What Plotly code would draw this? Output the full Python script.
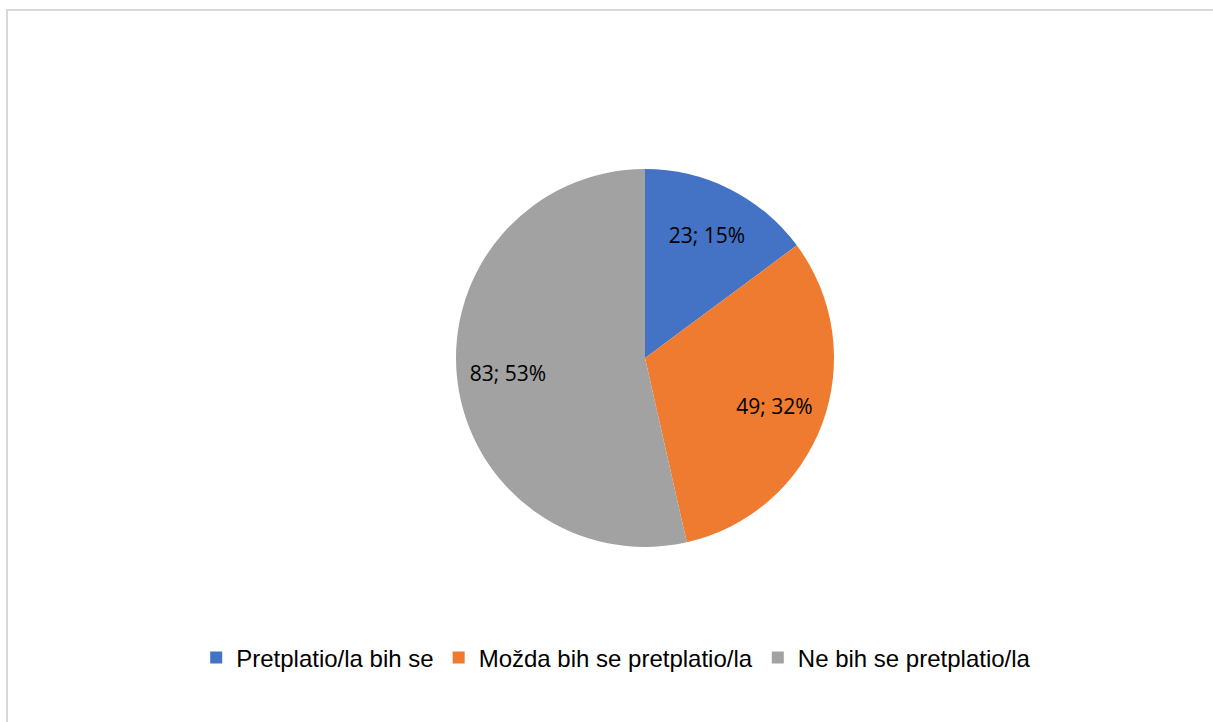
import plotly.graph_objects as go

labels = ["Pretplatio/la bih se", "Možda bih se pretplatio/la", "Ne bih se pretplatio/la"]
counts = [23, 49, 83]
percents = [15, 32, 53]
colors = ["#4472c4", "#ee7b2f", "#a2a2a2"]

W = 1213
H = 722

text = ["%d; %d%%" % (c, p) for c, p in zip(counts, percents)]
pie_domain = dict(x=[456 / W, 834 / W], y=[1 - 547 / H, 1 - 169 / H])

fig = go.Figure()

# the coloured pie
fig.add_trace(go.Pie(
    labels=labels,
    values=counts,
    textinfo="none",
    marker=dict(colors=colors, line=dict(width=0)),
    sort=False,
    direction="clockwise",
    rotation=0,
    domain=pie_domain,
    hoverinfo="label+value+percent",
))

# transparent ring on top, only used to push the data labels outward
fig.add_trace(go.Pie(
    labels=labels,
    values=counts,
    text=text,
    textinfo="text",
    textposition="inside",
    insidetextorientation="horizontal",
    textfont=dict(family="Open Sans", size=21, color="#000000"),
    marker=dict(colors=["rgba(0,0,0,0)"] * 3, line=dict(width=0)),
    hole=0.46,
    sort=False,
    direction="clockwise",
    rotation=0,
    domain=pie_domain,
    showlegend=False,
    hoverinfo="skip",
))

# chart area border (right/bottom edges fall outside the picture)
fig.add_shape(type="rect", xref="paper", yref="paper",
              x0=7 / W, x1=1.1, y0=-0.1, y1=1 - 10 / H,
              line=dict(color="#d9d9d9", width=2))

fig.update_layout(
    width=W,
    height=H,
    margin=dict(l=0, r=0, t=0, b=0),
    paper_bgcolor="white",
    plot_bgcolor="white",
    showlegend=True,
    legend=dict(
        orientation="h",
        x=0.508, xanchor="center",
        y=1 - 658 / H, yanchor="middle",
        font=dict(family="Liberation Sans", size=24, color="#000000"),
        traceorder="normal",
    ),
)

fig.write_html("out.html", config={"displayModeBar": False},
               post_script="document.body.style.margin='0px';")
